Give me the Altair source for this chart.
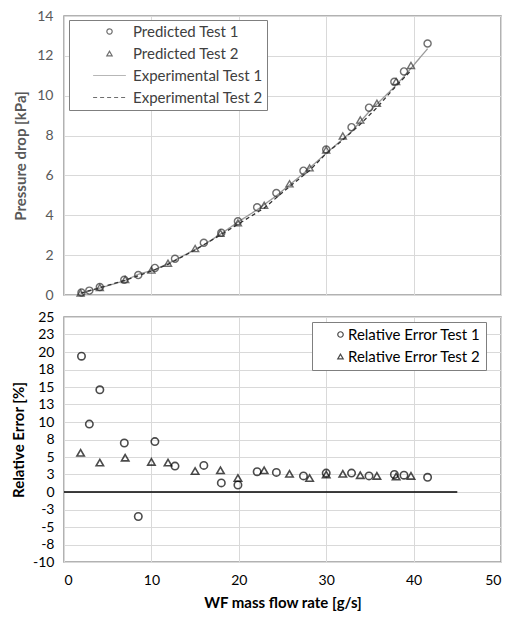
import altair as alt
import pandas as pd

FONT = "Lato"

# ---- Test 1 (circles) ----
x_t1 = [2.0, 2.9, 4.1, 6.9, 8.5, 10.4, 12.7, 16.0, 18.0, 19.9, 22.1, 24.3, 27.4, 30.0, 32.9, 34.9, 37.8, 38.9, 41.6]
pred_t1 = [0.12, 0.22, 0.40, 0.76, 1.00, 1.36, 1.82, 2.62, 3.12, 3.70, 4.40, 5.12, 6.24, 7.30, 8.42, 9.40, 10.70, 11.22, 12.62]
exp_t1 = [0.10, 0.20, 0.35, 0.71, 1.04, 1.27, 1.75, 2.52, 3.08, 3.66, 4.28, 4.98, 6.10, 7.11, 8.20, 9.19, 10.44, 10.96, 12.36]
err_t1 = [19.4, 9.7, 14.6, 7.0, -3.5, 7.2, 3.7, 3.8, 1.3, 1.0, 2.9, 2.8, 2.3, 2.7, 2.7, 2.3, 2.5, 2.4, 2.1]

# ---- Test 2 (triangles) ----
x_t2 = [1.9, 4.1, 7.0, 10.0, 11.9, 15.0, 17.9, 19.9, 22.9, 25.8, 28.1, 30.0, 31.9, 33.9, 35.8, 38.0, 39.7]
pred_t2 = [0.10, 0.38, 0.78, 1.25, 1.60, 2.33, 3.10, 3.62, 4.50, 5.58, 6.38, 7.28, 7.98, 8.78, 9.62, 10.72, 11.52]
exp_t2 = [0.095, 0.365, 0.74, 1.20, 1.54, 2.26, 3.01, 3.55, 4.36, 5.44, 6.25, 7.10, 7.78, 8.57, 9.40, 10.49, 11.26]
err_t2 = [5.6, 4.2, 4.9, 4.3, 4.2, 3.0, 3.1, 2.0, 3.1, 2.6, 2.0, 2.5, 2.6, 2.4, 2.3, 2.2, 2.3]

top_series = ["Predicted Test 1", "Predicted Test 2", "Experimental Test 1", "Experimental Test 2"]
err_series = ["Relative Error Test 1", "Relative Error Test 2"]
zero_x = [0, 45]
zero_y = [0, 0]

x_ticks = [0, 10, 20, 30, 40, 50]
top_y_ticks = [0, 2, 4, 6, 8, 10, 12, 14]
err_y_ticks = [-10, -7.5, -5, -2.5, 0, 2.5, 5, 7.5, 10, 12.5, 15, 17.5, 20, 22.5, 25]

pts_top = pd.DataFrame({
    "x": x_t1 + x_t2,
    "y": pred_t1 + pred_t2,
    "series": [top_series[0]] * len(x_t1) + [top_series[1]] * len(x_t2),
})
lines_top = pd.DataFrame({
    "x": x_t1 + x_t2,
    "y": exp_t1 + exp_t2,
    "series": [top_series[2]] * len(x_t1) + [top_series[3]] * len(x_t2),
})
err_df = pd.DataFrame({
    "x": x_t1 + x_t2,
    "y": err_t1 + err_t2,
    "series": [err_series[0]] * len(x_t1) + [err_series[1]] * len(x_t2),
})
zero_df = pd.DataFrame({"x": [zero_x[0]], "x2": [zero_x[1]], "y": [zero_y[0]]})

W = 437
xscale = alt.Scale(domain=[0, 50], nice=False)

legend_top = alt.Legend(
    title=None, orient="none", legendX=5, legendY=4,
    strokeColor="#7f7f7f", fillColor="white", padding=4,
    labelFont=FONT, labelFontSize=15, labelColor="#404040",
    symbolSize=28, symbolStrokeWidth=1.2, rowPadding=6,
    symbolOffset=29, labelOffset=16, labelLimit=300,
)
color_top = alt.Color("series:N", scale=alt.Scale(domain=top_series, range=["#333333", "#333333", "#9a9a9a", "#333333"]), legend=legend_top)
shape_top = alt.Shape("series:N", scale=alt.Scale(domain=top_series, range=["circle", "triangle-up", "M-6.2,0H6.2", "M-6.2,0H6.2"]), legend=legend_top)
dash_top = alt.StrokeDash("series:N", scale=alt.Scale(domain=top_series, range=[[1, 0], [1, 0], [1, 0], [4, 3]]), legend=legend_top)

top_x = alt.X("x:Q", scale=xscale, axis=alt.Axis(values=x_ticks, labels=False, ticks=False, domain=False, title=None))
top_y = alt.Y("y:Q", scale=alt.Scale(domain=[0, 14], nice=False),
              axis=alt.Axis(values=top_y_ticks, title="Pressure drop [kPa]", labelColor="#595959", titleColor="#595959",
                            ticks=False, domain=False, labelPadding=11, titlePadding=8, labelOverlap=False))

top_lines = alt.Chart(lines_top).mark_line(strokeWidth=1.3).encode(
    x=top_x, y=top_y, color=color_top, strokeDash=dash_top, order="x:Q"
)
top_pts = alt.Chart(pts_top).mark_point(filled=False, size=50, strokeWidth=1.4).encode(
    x=top_x, y=top_y, color=color_top, shape=shape_top
)
top = alt.layer(top_lines, top_pts).properties(width=W, height=279)

legend_err = alt.Legend(
    title=None, orient="none", legendX=248, legendY=5,
    strokeColor="#7f7f7f", fillColor="white", padding=5,
    labelFont=FONT, labelFontSize=15, labelColor="#000000",
    symbolSize=30, symbolStrokeWidth=1.2, symbolStrokeColor="#000000", rowPadding=6,
    symbolOffset=16, labelOffset=0, labelLimit=300,
)
err_x_axis = alt.Axis(values=x_ticks, title="WF mass flow rate [g/s]", ticks=False, domain=False,
                      labelPadding=11, titlePadding=8)
err_y_axis = alt.Axis(values=err_y_ticks, title="Relative Error [%]", ticks=False, domain=False,
                      labelExpr="datum.value < 0 ? '-' + round(-datum.value) : '' + round(datum.value)",
                      labelPadding=10, titlePadding=6, labelOverlap=False, grid=True)
err_yscale = alt.Scale(domain=[-10, 25], nice=False)

zero_rule = alt.Chart(zero_df).mark_rule(color="black", strokeWidth=1.5).encode(
    x=alt.X("x:Q", scale=xscale, axis=err_x_axis), x2="x2:Q",
    y=alt.Y("y:Q", scale=err_yscale, axis=err_y_axis),
)
err_pts = alt.Chart(err_df).mark_point(filled=False, size=55, strokeWidth=1.6, color="black").encode(
    x=alt.X("x:Q", scale=xscale, axis=err_x_axis),
    y=alt.Y("y:Q", scale=err_yscale, axis=err_y_axis),
    shape=alt.Shape("series:N", scale=alt.Scale(domain=err_series, range=["circle", "triangle-up"]), legend=legend_err),
)
bottom = alt.layer(err_pts, zero_rule).properties(width=W, height=245)

chart = alt.vconcat(top, bottom, spacing=6).resolve_scale(
    color="independent", shape="independent", strokeDash="independent"
).resolve_legend(
    color="independent", shape="independent", strokeDash="independent"
).properties(
    padding={"left": 2, "top": 0, "right": 0, "bottom": 0}
).configure(font=FONT).configure_view(
    stroke="#999999", strokeWidth=1.5
).configure_axis(
    labelFont=FONT, labelFontSize=14, labelColor="#000000",
    titleFont=FONT, titleFontSize=15, titleFontWeight="bold", titleColor="#000000",
    gridColor="#d9d9d9", gridWidth=1,
).configure_legend(labelFont=FONT)

chart.save("out.html", embed_options={"renderer": "svg", "actions": False})
